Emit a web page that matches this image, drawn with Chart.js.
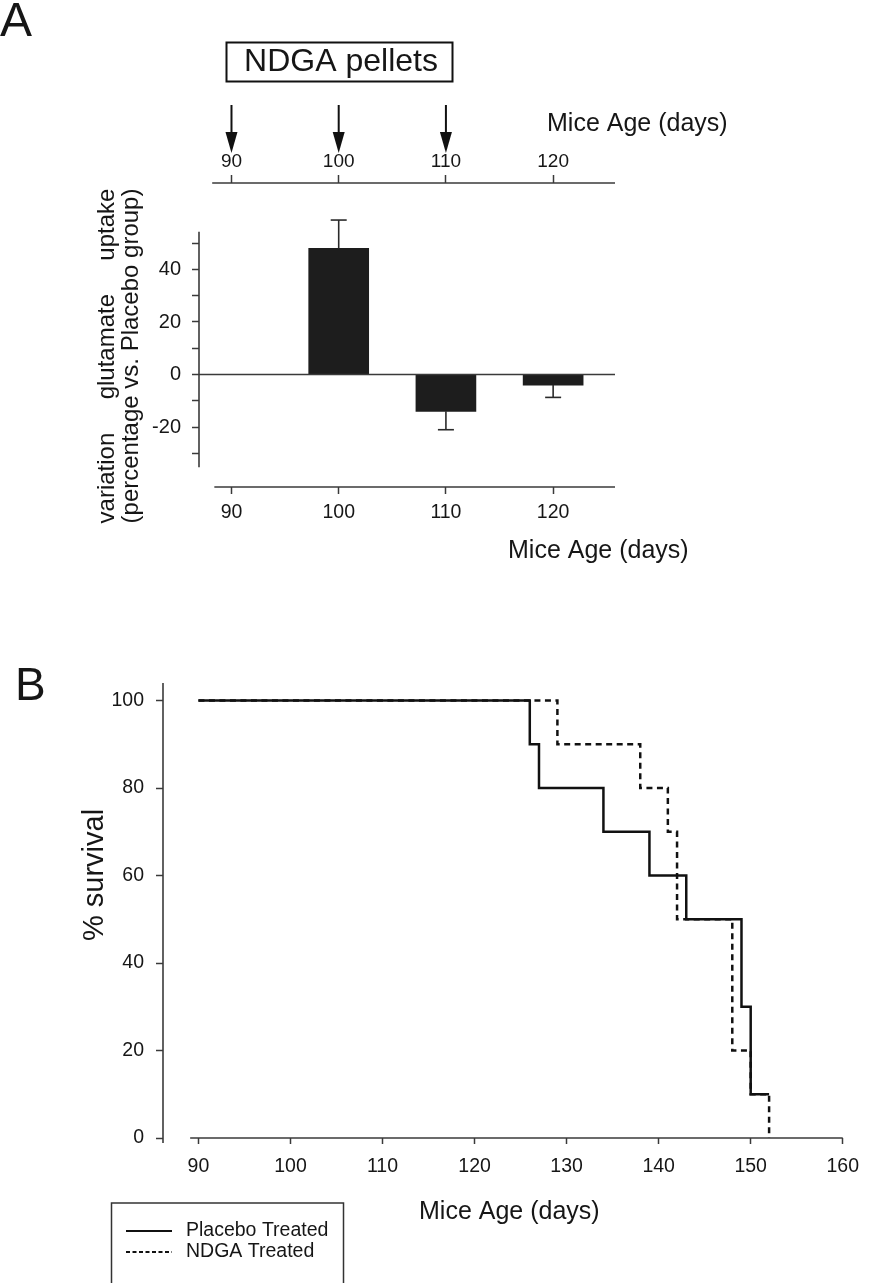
<!DOCTYPE html>
<html>
<head>
<meta charset="utf-8">
<script src="https://cdn.jsdelivr.net/npm/chart.js@4.4.1/dist/chart.umd.min.js"></script>
<style>
html, body { margin: 0; padding: 0; background: #fff; }
#wrap { position: relative; width: 870px; height: 1283px; overflow: hidden; }
#chartA { position: absolute; left: 0; top: 0; }
#chartB { position: absolute; left: 0; top: 600px; }
</style>
</head>
<body>
<div id="wrap">
  <canvas id="chartA" width="870" height="600"></canvas>
  <canvas id="chartB" width="870" height="683"></canvas>
</div>
<script>
// ---- panel A: glutamate uptake ----
var pelletDays = [90, 100, 110];
var uptakeDays = [100, 110, 120];
var uptakeMean = [48, -14, -4];
var uptakeErr = [10.8, 7, 4.7];
var ageTicksA = [90, 100, 110, 120];
var uptakeTicks = [-30, -20, -10, 0, 10, 20, 30, 40, 50];

// ---- panel B: survival ----
var placeboDays = [90, 126, 127, 134, 139, 143, 149, 150, 152];
var placeboSurv = [100, 90, 80, 70, 60, 50, 30, 10, 10];
var ndgaDays = [90, 129, 138, 141, 142, 148, 150, 152];
var ndgaSurv = [100, 90, 80, 70, 50, 20, 10, 0];
var survTicks = [0, 20, 40, 60, 80, 100];
var ageTicksB = [90, 100, 110, 120, 130, 140, 150, 160];

var FONT = '"Liberation Sans", Arial, Helvetica, sans-serif';
var TXT = '#161616';
var AXIS = '#3a3a3a';

function fixTicks(values) {
    return function(scale) {
        scale.ticks = values.map(function(v) { return { value: v }; });
    };
}

function drawText(ctx, s, x, y, size, align, angle, baseline) {
    ctx.save();
    ctx.translate(x, y);
    if (angle) ctx.rotate(angle);
    ctx.font = size + 'px ' + FONT;
    ctx.fillStyle = TXT;
    ctx.textAlign = align || 'left';
    ctx.textBaseline = baseline || 'middle';
    ctx.fillText(s, 0, 0);
    ctx.restore();
}

function line(ctx, x1, y1, x2, y2, w, color) {
    ctx.beginPath();
    ctx.lineWidth = w;
    ctx.strokeStyle = color;
    ctx.moveTo(x1, y1);
    ctx.lineTo(x2, y2);
    ctx.stroke();
}

function tickGrid(len) {
    return {
        drawOnChartArea: false,
        drawTicks: true,
        tickLength: len,
        tickColor: AXIS,
        tickWidth: 1.5,
        offset: false
    };
}

// axis extents in data units
var yAxisTopA = 54.3, yAxisBottomA = -35.3, xAxisStartA = 88.4, xTopStartA = 88.2;
var xAxisStartB = 89.1;

var panelAExtras = {
    id: 'panelAExtras',
    afterDraw: function(chart) {
        var ctx = chart.ctx;
        var area = chart.chartArea;
        var x = chart.scales.x, xt = chart.scales.xt, y = chart.scales.y;

        // axis lines
        line(ctx, area.left, y.getPixelForValue(yAxisTopA), area.left, y.getPixelForValue(yAxisBottomA), 1.6, AXIS);
        line(ctx, area.left, y.getPixelForValue(0), area.right, y.getPixelForValue(0), 1.6, AXIS);
        line(ctx, x.getPixelForValue(xAxisStartA), area.bottom, area.right, area.bottom, 1.6, AXIS);
        line(ctx, xt.getPixelForValue(xTopStartA), area.top, area.right, area.top, 1.6, AXIS);

        // error bars
        for (var i = 0; i < uptakeDays.length; i++) {
            var px = x.getPixelForValue(uptakeDays[i]);
            var sign = uptakeMean[i] >= 0 ? 1 : -1;
            var y0 = y.getPixelForValue(uptakeMean[i]);
            var y1 = y.getPixelForValue(uptakeMean[i] + sign * uptakeErr[i]);
            line(ctx, px, y0, px, y1, 1.6, '#2a2a2a');
            line(ctx, px - 8, y1, px + 8, y1, 1.6, '#2a2a2a');
        }

        // pellet arrows
        ctx.fillStyle = '#111';
        for (var j = 0; j < pelletDays.length; j++) {
            var ax = xt.getPixelForValue(pelletDays[j]);
            line(ctx, ax, 105, ax, 136, 2, '#111');
            ctx.beginPath();
            ctx.moveTo(ax - 6, 132);
            ctx.lineTo(ax + 6, 132);
            ctx.lineTo(ax, 153);
            ctx.closePath();
            ctx.fill();
        }

        // NDGA pellets box
        ctx.lineWidth = 2;
        ctx.strokeStyle = '#111';
        ctx.strokeRect(226.5, 42.5, 226, 39);
        drawText(ctx, 'NDGA pellets', 341, 62, 32, 'center');

        drawText(ctx, 'A', 0, 36, 48, 'left', 0, 'alphabetic');
        drawText(ctx, 'Mice Age (days)', 547, 124, 25, 'left');
        drawText(ctx, 'Mice Age (days)', 508, 551, 25, 'left');

        drawText(ctx, 'variation     glutamate     uptake', 107, 356, 24, 'center', -Math.PI / 2);
        drawText(ctx, '(percentage vs. Placebo group)', 131, 356, 24, 'center', -Math.PI / 2);
    }
};

var panelBExtras = {
    id: 'panelBExtras',
    afterDraw: function(chart) {
        var ctx = chart.ctx;
        var area = chart.chartArea;
        var x = chart.scales.x;

        line(ctx, area.left, area.top, area.left, area.bottom + 5, 1.6, AXIS);
        line(ctx, x.getPixelForValue(xAxisStartB), area.bottom, area.right, area.bottom, 1.6, AXIS);

        drawText(ctx, 'B', 15, 100, 46, 'left', 0, 'alphabetic');
        drawText(ctx, '% survival', 95, 275, 29, 'center', -Math.PI / 2);
        drawText(ctx, 'Mice Age (days)', 419, 612, 25, 'left');

        // legend
        ctx.lineWidth = 1.5;
        ctx.strokeStyle = '#333';
        ctx.strokeRect(111.5, 603, 232, 110);
        var ds = chart.data.datasets;
        var rows = [631, 652];
        for (var i = 0; i < ds.length; i++) {
            ctx.save();
            ctx.setLineDash(ds[i].borderDash && ds[i].borderDash.length ? [4, 2.5] : []);
            line(ctx, 126, rows[i], 172, rows[i], 2, '#111');
            ctx.restore();
            drawText(ctx, ds[i].label, 186, rows[i], 19.5, 'left');
        }
    }
};

new Chart(document.getElementById('chartA'), {
    type: 'bar',
    data: {
        datasets: [{
            label: 'uptake',
            data: uptakeDays.map(function(d, i) { return { x: d, y: uptakeMean[i] }; }),
            backgroundColor: '#1d1d1d',
            borderWidth: 0,
            barThickness: 60,
            xAxisID: 'x',
            yAxisID: 'y'
        }]
    },
    options: {
        responsive: false,
        animation: false,
        layout: { padding: { left: 0, right: 255, top: 143, bottom: 73 } },
        plugins: { legend: { display: false }, tooltip: { enabled: false } },
        scales: {
            x: {
                type: 'linear', position: 'bottom', min: 86.97, max: 125.77, offset: false,
                afterBuildTicks: fixTicks(ageTicksA),
                afterFit: function(s) { s.height = 40; },
                border: { display: false },
                grid: tickGrid(7),
                ticks: { font: { family: FONT, size: 19.5 }, color: TXT, padding: 7, maxRotation: 0, autoSkip: false }
            },
            xt: {
                type: 'linear', axis: 'x', position: 'top', min: 86.97, max: 125.77, offset: false,
                afterBuildTicks: fixTicks(ageTicksA),
                afterFit: function(s) { s.height = 40; },
                border: { display: false },
                grid: tickGrid(8),
                ticks: { font: { family: FONT, size: 19 }, color: TXT, padding: 2, maxRotation: 0, autoSkip: false }
            },
            y: {
                type: 'linear', min: -42.8, max: 72.9,
                afterBuildTicks: fixTicks(uptakeTicks),
                afterFit: function(s) { s.width = 199; },
                border: { display: false },
                grid: tickGrid(7),
                ticks: {
                    font: { family: FONT, size: 20 }, color: TXT, padding: 11, autoSkip: false,
                    callback: function(v) { return v % 20 === 0 ? v : ''; }
                }
            }
        }
    },
    plugins: [panelAExtras]
});

new Chart(document.getElementById('chartB'), {
    type: 'line',
    data: {
        datasets: [{
            label: 'Placebo Treated',
            data: placeboDays.map(function(d, i) { return { x: d, y: placeboSurv[i] }; }),
            stepped: true,
            borderColor: '#111',
            borderWidth: 2.5,
            pointRadius: 0,
            fill: false
        }, {
            label: 'NDGA Treated',
            data: ndgaDays.map(function(d, i) { return { x: d, y: ndgaSurv[i] }; }),
            stepped: true,
            borderColor: '#111',
            borderWidth: 2.5,
            borderDash: [6, 4.5],
            pointRadius: 0,
            fill: false
        }]
    },
    options: {
        responsive: false,
        animation: false,
        layout: { padding: { left: 0, right: 17, top: 83, bottom: 95 } },
        plugins: { legend: { display: false }, tooltip: { enabled: false } },
        scales: {
            x: {
                type: 'linear', min: 86.15, max: 160,
                afterBuildTicks: fixTicks(ageTicksB),
                afterFit: function(s) { s.height = 50; },
                border: { display: false },
                grid: tickGrid(6),
                ticks: { font: { family: FONT, size: 19.5 }, color: TXT, padding: 11, maxRotation: 0, autoSkip: false }
            },
            y: {
                type: 'linear', min: 0, max: 104,
                afterBuildTicks: fixTicks(survTicks),
                afterFit: function(s) { s.width = 163; },
                border: { display: false },
                grid: tickGrid(7),
                ticks: { font: { family: FONT, size: 19.5 }, color: TXT, padding: 12, autoSkip: false }
            }
        }
    },
    plugins: [panelBExtras]
});
</script>
</body>
</html>
